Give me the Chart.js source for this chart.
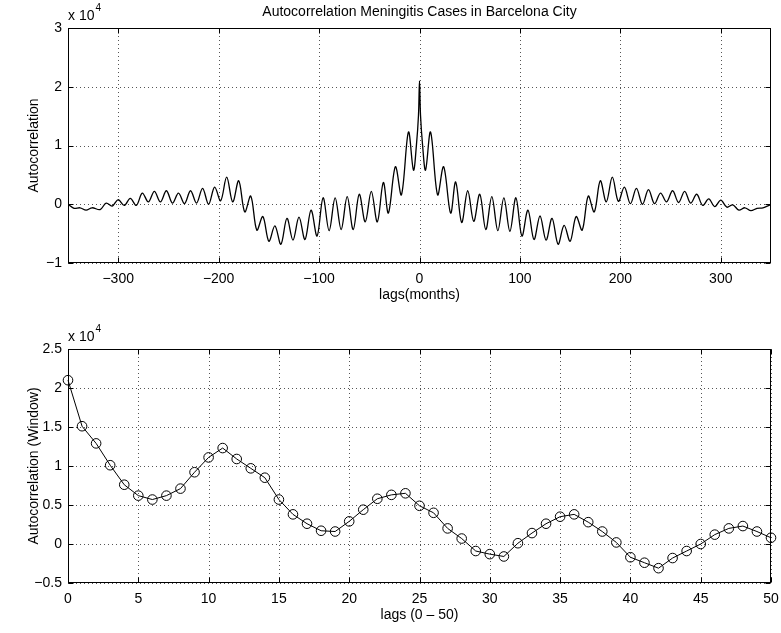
<!DOCTYPE html>
<html>
<head>
<meta charset="utf-8">
<script src="https://cdn.jsdelivr.net/npm/chart.js@4/dist/chart.umd.min.js"></script>
<style>
  html, body { margin: 0; padding: 0; background: #fff; }
  #wrap { position: relative; width: 781px; height: 633px; }
  canvas { position: absolute; left: 0; }
  #top { top: 0; }
  #bottom { top: 316px; }
</style>
</head>
<body>
<div id="wrap">
  <canvas id="top" width="781" height="316"></canvas>
  <canvas id="bottom" width="781" height="317"></canvas>
</div>
<script>
// Top panel: autocorrelation read at its peaks and troughs (lag in months).
const topLags = [
  -350, -344, -338, -332, -326, -318, -312, -306, -300, -294,
  -288, -282, -276, -270, -264, -258, -252, -246, -240, -234,
  -228, -222, -216, -210, -204, -198, -192, -186, -180, -174,
  -168, -162, -156, -150, -144, -138, -132, -126, -120, -114,
  -108, -102, -96, -90, -84, -78, -72, -66, -60, -54,
  -48, -42, -36, -31, -24, -18, -11, -6, -3, -1,
  0,
  1, 3, 6, 11, 18, 24, 31, 36, 42, 48,
  54, 60, 66, 72, 78, 84, 90, 96, 102, 108,
  114, 120, 126, 132, 138, 144, 150, 156, 162, 168,
  174, 180, 186, 192, 198, 204, 210, 216, 222, 228,
  234, 240, 246, 252, 258, 264, 270, 276, 282, 288,
  294, 300, 306, 312, 318, 324, 330, 336, 342, 348, 350
];
const topAcf = [
  0, -700, -600, -1000, -600, -900, 200, -300, 800, -200,
  1000, -200, 1900, 400, 2200, 400, 2300, 200, 1900, 100,
  2300, 200, 2700, 0, 2900, 600, 4600, 400, 4000, -1300,
  1400, -4400, -2100, -6300, -3700, -6800, -2400, -6100, -2200, -6000,
  -1000, -5400, 1100, -4500, 1100, -4300, 1300, -4300, 1700, -3000,
  2200, -3000, 3700, -1500, 6400, 1600, 12300, 5800, 10200, 15200,
  21000,
  15200, 10200, 5800, 12300, 1600, 6400, -1500, 3800, -3100, 2300,
  -2900, 1700, -4300, 1300, -4500, 1100, -4600, 1100, -5400, -1000,
  -6000, -2000, -6100, -2400, -6800, -3600, -6300, -2100, -4400, 1400,
  -1300, 4000, 400, 4600, 500, 2900, 100, 2700, 0, 2500,
  100, 1900, 400, 2300, 300, 2200, 200, 1700, -200, 900,
  -400, 700, -500, -100, -1000, -600, -1100, -700, -600, -200, 0
];

// Bottom panel: first 50 lags, one value per month
const windowLags = [
  0, 1, 2, 3, 4, 5, 6, 7, 8, 9,
  10, 11, 12, 13, 14, 15, 16, 17, 18, 19,
  20, 21, 22, 23, 24, 25, 26, 27, 28, 29,
  30, 31, 32, 33, 34, 35, 36, 37, 38, 39,
  40, 41, 42, 43, 44, 45, 46, 47, 48, 49, 50
];
const windowAcf = [
  21000, 15100, 12900, 10100, 7600, 6200, 5700, 6200, 7100, 9200,
  11100, 12300, 10900, 9700, 8500, 5700, 3800, 2600, 1700, 1600,
  2900, 4400, 5800, 6300, 6500, 4900, 4000, 2000, 700, -900,
  -1300, -1600, 100, 1400, 2600, 3500, 3800, 2800, 1600, 200,
  -1700, -2400, -3100, -1800, -900, 0, 1200, 2000, 2300, 1600, 800
];

const topXTicks = [-300, -200, -100, 0, 100, 200, 300];

const FONT = '"Liberation Sans", Arial, Helvetica, sans-serif';
const FSIZE = 14;
Chart.defaults.font.family = FONT;
Chart.defaults.font.size = FSIZE;
Chart.defaults.color = '#000';

// MATLAB style minus sign, values shown in units of 10^4
function fmt(v) {
  const n = Math.round(v / 1000) / 10;
  return n < 0 ? '\u2212' + Math.abs(n) : String(n);
}

// dotted grid, black box, inward ticks, title and the "x 10^4" factor
const axesDecor = {
  id: 'axesDecor',
  beforeDatasetsDraw(chart) {
    const { ctx, chartArea: a, scales: { x, y } } = chart;
    ctx.save();
    ctx.strokeStyle = '#555';
    ctx.lineWidth = 1;
    ctx.setLineDash([1, 3]);
    ctx.beginPath();
    x.ticks.forEach(t => {
      const px = Math.round(x.getPixelForValue(t.value)) + 0.5;
      ctx.moveTo(px, a.top);
      ctx.lineTo(px, a.bottom);
    });
    y.ticks.forEach(t => {
      const py = Math.round(y.getPixelForValue(t.value)) + 0.5;
      ctx.moveTo(a.left, py);
      ctx.lineTo(a.right, py);
    });
    ctx.stroke();
    ctx.restore();
  },
  afterDatasetsDraw(chart, args, opts) {
    const { ctx, chartArea: a, scales: { x, y } } = chart;
    const L = Math.round(a.left) + 0.5, R = Math.round(a.right) - 0.5;
    const T = Math.round(a.top) + 0.5, B = Math.round(a.bottom) - 0.5;
    ctx.save();
    ctx.strokeStyle = '#000';
    ctx.lineWidth = 1;
    ctx.setLineDash([]);
    ctx.strokeRect(L, T, R - L, B - T);
    ctx.beginPath();
    const tl = 5;
    x.ticks.forEach(t => {
      const px = Math.round(x.getPixelForValue(t.value)) + 0.5;
      ctx.moveTo(px, B); ctx.lineTo(px, B - tl);
      ctx.moveTo(px, T); ctx.lineTo(px, T + tl);
    });
    y.ticks.forEach(t => {
      const py = Math.round(y.getPixelForValue(t.value)) + 0.5;
      ctx.moveTo(L, py); ctx.lineTo(L + tl, py);
      ctx.moveTo(R, py); ctx.lineTo(R - tl, py);
    });
    ctx.stroke();

    ctx.fillStyle = '#000';
    ctx.textBaseline = 'middle';
    ctx.textAlign = 'left';
    ctx.font = FSIZE + 'px ' + FONT;
    const base = 'x 10';
    ctx.fillText(base, a.left, a.top - 12);
    const w = ctx.measureText(base).width;
    ctx.font = '10px ' + FONT;
    ctx.fillText('4', a.left + w + 1, a.top - 20);

    if (opts.title) {
      ctx.font = FSIZE + 'px ' + FONT;
      ctx.textAlign = 'center';
      ctx.fillText(opts.title, (a.left + a.right) / 2, 12);
    }
    ctx.restore();
  }
};

function baseOptions(pad, yTitle, xTitle) {
  return {
    responsive: false,
    animation: false,
    events: [],
    layout: { padding: pad },
    plugins: { legend: { display: false }, tooltip: { enabled: false } },
    scales: {
      x: {
        type: 'linear',
        grid: { display: false, drawTicks: false },
        border: { display: false },
        ticks: { padding: 8, maxRotation: 0, autoSkip: false, callback: v => v < 0 ? '\u2212' + Math.abs(v) : String(v) },
        title: { display: true, text: xTitle, padding: { top: 0, bottom: 0 } },
        // fixed axis box; no extra room for the edge labels
        afterFit: s => { s.height = 41; s.paddingLeft = 0; s.paddingRight = 0; }
      },
      y: {
        grid: { display: false, drawTicks: false },
        border: { display: false },
        ticks: { padding: 6, autoSkip: false, callback: v => fmt(v) },
        title: { display: true, text: yTitle, padding: { top: 4, bottom: 0 } },
        afterFit: s => { s.width = 46; s.paddingTop = 0; s.paddingBottom = 0; }
      }
    }
  };
}

// ---- top chart ----
const topOpts = baseOptions({ left: 22, right: 10, top: 28, bottom: 12 }, 'Autocorrelation', 'lags(months)');
topOpts.scales.x.min = -350;
topOpts.scales.x.max = 350;
topOpts.scales.x.ticks.stepSize = 100;
topOpts.scales.x.afterBuildTicks = s => { s.ticks = topXTicks.map(v => ({ value: v })); };
topOpts.scales.y.min = -10000;
topOpts.scales.y.max = 30000;
topOpts.scales.y.ticks.stepSize = 10000;
topOpts.plugins.axesDecor = { title: 'Autocorrelation Meningitis Cases in Barcelona City' };

new Chart(document.getElementById('top'), {
  type: 'line',
  data: {
    datasets: [{
      data: topLags.map((lag, i) => ({ x: lag, y: topAcf[i] })),
      borderColor: '#000',
      borderWidth: 1.3,
      pointRadius: 0,
      tension: 0.35,
      fill: false
    }]
  },
  options: topOpts,
  plugins: [axesDecor]
});

// ---- bottom chart ----
const botOpts = baseOptions({ left: 22, right: 10, top: 33, bottom: 9 }, 'Autocorrelation (Window)', 'lags (0 \u2013 50)');
botOpts.scales.x.min = 0;
botOpts.scales.x.max = 50;
botOpts.scales.x.ticks.stepSize = 5;
botOpts.scales.y.min = -5000;
botOpts.scales.y.max = 25000;
botOpts.scales.y.ticks.stepSize = 5000;
botOpts.plugins.axesDecor = {};

new Chart(document.getElementById('bottom'), {
  type: 'line',
  data: {
    datasets: [{
      data: windowLags.map((lag, i) => ({ x: lag, y: windowAcf[i] })),
      borderColor: '#000',
      borderWidth: 1,
      tension: 0,
      fill: false,
      clip: false,
      pointStyle: 'circle',
      pointRadius: 4.8,
      pointBorderColor: '#000',
      pointBackgroundColor: 'rgba(0,0,0,0)',
      pointBorderWidth: 1
    }]
  },
  options: botOpts,
  plugins: [axesDecor]
});
</script>
</body>
</html>
